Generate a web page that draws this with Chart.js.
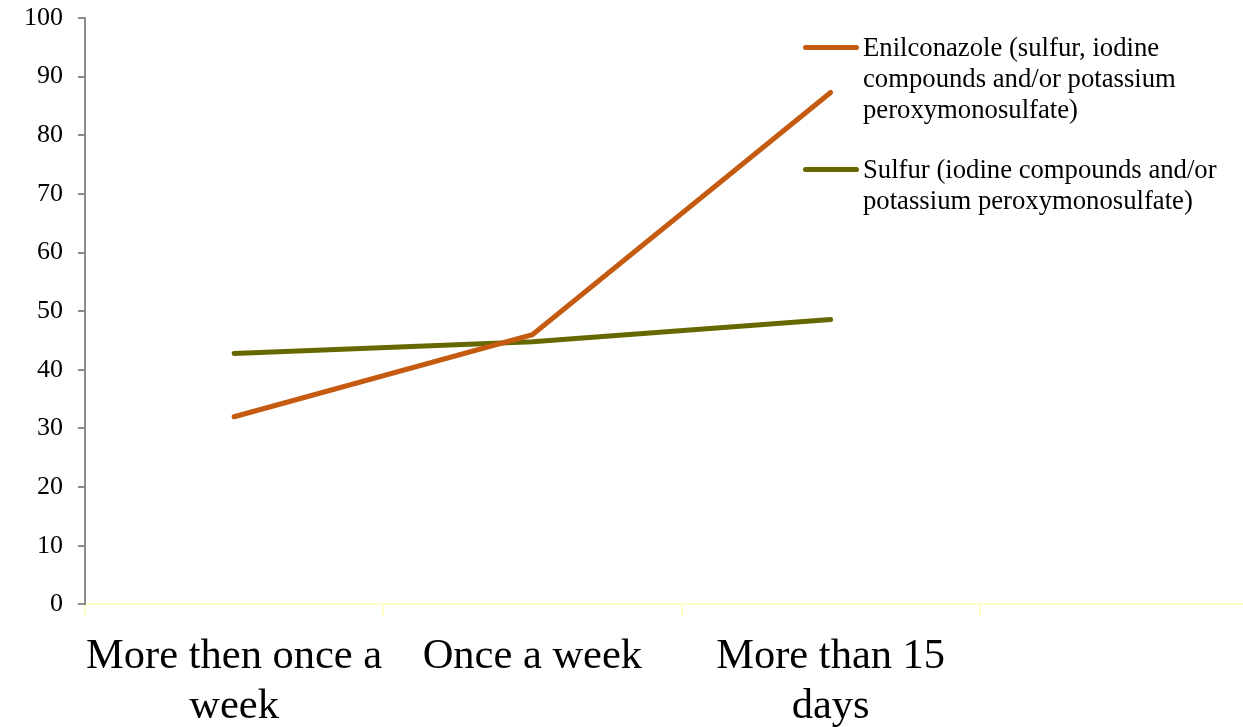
<!DOCTYPE html>
<html>
<head>
<meta charset="utf-8">
<script src="https://cdn.jsdelivr.net/npm/chart.js@4/dist/chart.umd.min.js"></script>
<style>
  html, body { margin: 0; padding: 0; background: #fff; overflow: hidden; }
  #wrap { position: relative; width: 1280px; height: 727px; }
  #legend { position: absolute; left: 0; top: 0; font-family: "Liberation Serif", "Times New Roman", serif; color: #000; }
  .item { position: absolute; left: 803px; width: 440px; }
  .swatch { position: absolute; left: 0; width: 56px; height: 5px; border-radius: 3px; }
  .text { position: absolute; left: 60px; font-size: 26.7px; line-height: 31px; white-space: pre; }
</style>
</head>
<body>
<div id="wrap">
  <canvas id="c" width="1280" height="727"></canvas>
  <div id="legend"></div>
</div>
<script>
// Frequency categories (the fourth slot is left empty on the axis)
const categories = [
  ["More then once a", "week"],
  ["Once a week"],
  ["More than 15", "days"],
  ""
];

// Series values (%)
const enilconazole = [32, 46, 87.3, null];
const sulfur = [42.8, 44.8, 48.6, null];

const seriesNames = [
  "Enilconazole (sulfur, iodine\ncompounds and/or potassium\nperoxymonosulfate)",
  "Sulfur (iodine compounds and/or\npotassium peroxymonosulfate)"
];
const seriesColors = ["#C55A11", "#676700"];

// Y axis range and step
const yMin = 0, yMax = 100, yStep = 10;

const serif = "'Liberation Serif', 'Times New Roman', serif";

new Chart(document.getElementById("c"), {
  type: "line",
  data: {
    labels: categories,
    datasets: [
      { label: seriesNames[0], data: enilconazole, borderColor: seriesColors[0] },
      { label: seriesNames[1], data: sulfur, borderColor: seriesColors[1] }
    ]
  },
  options: {
    responsive: false,
    animation: false,
    layout: { padding: { top: 18, left: 9, right: 2, bottom: -20 } },
    elements: {
      line: { borderWidth: 5, tension: 0, borderCapStyle: "round", borderJoinStyle: "miter", fill: false },
      point: { radius: 0, hoverRadius: 0 }
    },
    plugins: { legend: { display: false }, tooltip: { enabled: false } },
    scales: {
      x: {
        type: "category",
        offset: true,
        grid: {
          offset: true,
          drawOnChartArea: false,
          drawTicks: true,
          tickLength: 12,
          color: "#FFFFC8",
          lineWidth: 2
        },
        border: { display: true, color: "#FFFFC8", width: 2 },
        ticks: {
          color: "#000",
          padding: 16,
          maxRotation: 0,
          autoSkip: false,
          font: { family: serif, size: 42.5, lineHeight: 1.16 }
        }
      },
      y: {
        min: yMin,
        max: yMax,
        grid: {
          drawOnChartArea: false,
          drawTicks: true,
          tickLength: 7,
          color: "#8C8C8C",
          lineWidth: 2
        },
        border: { display: true, color: "#8C8C8C", width: 2 },
        ticks: {
          stepSize: yStep,
          color: "#000",
          padding: 15,
          // single-line labels; a tight line box keeps the top label from pushing the plot down
          font: { family: serif, size: 26, lineHeight: 0.2 }
        }
      }
    }
  }
});

// Legend: colored line followed by wrapped series name
const legend = document.getElementById("legend");
const legendTops = [47, 169];
seriesNames.forEach((name, i) => {
  const item = document.createElement("div");
  item.className = "item";
  item.style.top = legendTops[i] + "px";
  const sw = document.createElement("div");
  sw.className = "swatch";
  sw.style.background = seriesColors[i];
  sw.style.top = "-2.5px";
  const tx = document.createElement("div");
  tx.className = "text";
  tx.style.top = "-15.5px";
  tx.textContent = name;
  item.appendChild(sw);
  item.appendChild(tx);
  legend.appendChild(item);
});
</script>
</body>
</html>
